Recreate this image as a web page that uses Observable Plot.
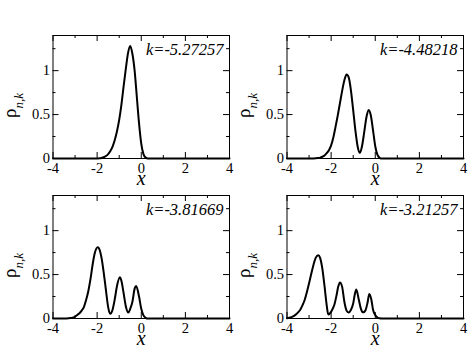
<!DOCTYPE html>
<html><head><meta charset="utf-8">
<script src="https://cdn.jsdelivr.net/npm/d3@7"></script>
<script src="https://cdn.jsdelivr.net/npm/@observablehq/plot@0.6"></script>
<style>
body{margin:0;background:#fff;}
#wrap{position:relative;width:471px;height:364px;background:#fff;overflow:hidden;}
#wrap svg{position:absolute;overflow:visible;}
#wrap svg, #wrap svg text, #wrap svg tspan{font-family:'Liberation Serif',serif !important;}
</style></head><body><div id="wrap"></div>
<script>
// Panel 1: k=-5.27257
const x1 = [-4, -2.0, -1.9, -1.8, -1.7, -1.6, -1.5, -1.4, -1.3, -1.2, -1.1, -1.0, -0.9, -0.8, -0.7, -0.6, -0.5, -0.4, -0.3, -0.2, -0.1, 0.0, 0.1, 0.2, 0.3, 4];
const y1 = [0, 0, 0.002, 0.006, 0.014, 0.028, 0.05, 0.085, 0.135, 0.21, 0.31, 0.44, 0.61, 0.82, 1.02, 1.2, 1.28, 1.19, 1.0, 0.70, 0.40, 0.17, 0.05, 0.01, 0, 0];
// Panel 2: k=-4.48218
const x2 = [-4, -2.8, -2.6, -2.5, -2.4, -2.3, -2.2, -2.1, -2.0, -1.9, -1.8, -1.7, -1.6, -1.5, -1.4, -1.3, -1.2, -1.1, -1.0, -0.9, -0.8, -0.7, -0.6, -0.5, -0.4, -0.3, -0.2, -0.1, 0.0, 0.1, 0.2, 0.3, 4];
const y2 = [0, 0.001, 0.005, 0.01, 0.02, 0.035, 0.06, 0.095, 0.15, 0.24, 0.36, 0.49, 0.63, 0.77, 0.89, 0.955, 0.92, 0.77, 0.55, 0.32, 0.14, 0.065, 0.14, 0.30, 0.47, 0.553, 0.49, 0.32, 0.14, 0.04, 0.008, 0, 0];
// Panel 3: k=-3.81669
const x3 = [-4, -3.4, -3.2, -3.0, -2.9, -2.8, -2.7, -2.6, -2.5, -2.4, -2.3, -2.2, -2.1, -1.97, -1.9, -1.8, -1.7, -1.6, -1.5, -1.41, -1.3, -1.2, -1.1, -0.97, -0.9, -0.8, -0.7, -0.58, -0.5, -0.4, -0.3, -0.23, -0.1, 0.0, 0.1, 0.2, 0.3, 4];
const y3 = [0, 0, 0.005, 0.02, 0.04, 0.06, 0.09, 0.13, 0.21, 0.31, 0.45, 0.62, 0.75, 0.81, 0.79, 0.69, 0.52, 0.32, 0.13, 0.053, 0.10, 0.22, 0.37, 0.47, 0.43, 0.29, 0.14, 0.068, 0.11, 0.19, 0.34, 0.37, 0.25, 0.11, 0.035, 0.008, 0, 0];
// Panel 4: k=-3.21257
const x4 = [-4, -3.9, -3.8, -3.7, -3.6, -3.5, -3.4, -3.3, -3.2, -3.1, -3.0, -2.9, -2.8, -2.7, -2.58, -2.5, -2.4, -2.3, -2.2, -2.13, -2.05, -1.95, -1.85, -1.75, -1.68, -1.6, -1.5, -1.4, -1.3, -1.21, -1.1, -1.0, -0.93, -0.86, -0.75, -0.65, -0.55, -0.45, -0.35, -0.27, -0.18, -0.1, 0.0, 0.1, 0.2, 0.3, 4];
const y4 = [0.004, 0.008, 0.015, 0.027, 0.045, 0.07, 0.10, 0.15, 0.21, 0.30, 0.40, 0.51, 0.61, 0.69, 0.72, 0.69, 0.57, 0.37, 0.15, 0.045, 0.06, 0.10, 0.16, 0.27, 0.36, 0.41, 0.36, 0.19, 0.09, 0.068, 0.10, 0.17, 0.27, 0.33, 0.22, 0.11, 0.07, 0.09, 0.18, 0.28, 0.22, 0.10, 0.04, 0.012, 0.002, 0, 0];

const kLabels = ["k=-5.27257", "k=-4.48218", "k=-3.81669", "k=-3.21257"];
const xLabel = "x";
const yLabelMain = "ρ";
const yLabelSub = "n,k";
const xMajor = [-4, -2, 0, 2, 4];
const xMinor = [-3, -1, 1, 3];
const yMajor = [0, 0.5, 1];
const yMinor = [0.25, 0.75, 1.25];

const series = [[x1, y1], [x2, y2], [x3, y3], [x4, y4]];
const offsets = [[0, 0], [233.5, 0], [0, 160], [233.5, 160]];

const W = 235.5, H = 182, mL = 52.5, mR = 6.5, mT = 35, mB = 24;
const fw = W - mL - mR, fh = H - mT - mB;
const font = "'Liberation Serif', serif";
const wrap = document.getElementById("wrap");

series.forEach(([xs, ys], i) => {
  const data = xs.map((x, j) => ({x, y: ys[j]}));
  const tick = {stroke: "black", strokeOpacity: 1, strokeWidth: 1};
  const svg = Plot.plot({
    width: W, height: H,
    marginLeft: mL, marginRight: mR, marginTop: mT, marginBottom: mB,
    style: {fontFamily: font, fontSize: "14.5px", color: "black", background: "transparent", overflow: "visible"},
    x: {domain: [-4, 4]},
    y: {domain: [0, 1.4]},
    marks: [
      Plot.gridX(xMajor, {...tick, insetTop: fh - 6}),
      Plot.gridX(xMinor, {...tick, insetTop: fh - 3}),
      Plot.gridX(xMajor, {...tick, insetBottom: fh - 6}),
      Plot.gridX(xMinor, {...tick, insetBottom: fh - 3}),
      Plot.gridY(yMajor, {...tick, insetRight: fw - 6}),
      Plot.gridY(yMinor, {...tick, insetRight: fw - 3}),
      Plot.gridY(yMajor, {...tick, insetLeft: fw - 6}),
      Plot.gridY(yMinor, {...tick, insetLeft: fw - 3}),
      Plot.axisX(xMajor, {tickSize: 0, tickPadding: 4, tickFormat: d => String(d), label: null, fontFamily: font}),
      Plot.axisY(yMajor, {tickSize: 0, tickPadding: 3, tickFormat: d => String(d), label: null, fontFamily: font}),
      Plot.frame({stroke: "black", strokeWidth: 1}),
      Plot.line(data, {x: "x", y: "y", stroke: "black", strokeWidth: 2, curve: "monotone-x"}),
      Plot.text([kLabels[i]], {frameAnchor: "top-right", dx: -6, dy: 8, lineAnchor: "top", textAnchor: "end", fontStyle: "italic", fontSize: 16.5, fontFamily: font}),
      Plot.text([xLabel], {frameAnchor: "bottom", dy: 26, lineAnchor: "bottom", fontStyle: "italic", fontSize: 20, fontFamily: font})
    ]
  });
  // y-axis label with subscript, rotated
  const lab = d3.select(svg).append("text")
    .attr("transform", "translate(16,118) rotate(-90)")
    .attr("text-anchor", "start")
    .attr("fill", "black")
    .attr("font-family", font);
  lab.append("tspan").attr("font-size", 19).text(yLabelMain);
  lab.append("tspan").attr("font-size", 13).attr("font-style", "italic").attr("dy", 7).text(yLabelSub);

  svg.style.left = offsets[i][0] + "px";
  svg.style.top = offsets[i][1] + "px";
  wrap.appendChild(svg);
});
</script>
</body></html>
